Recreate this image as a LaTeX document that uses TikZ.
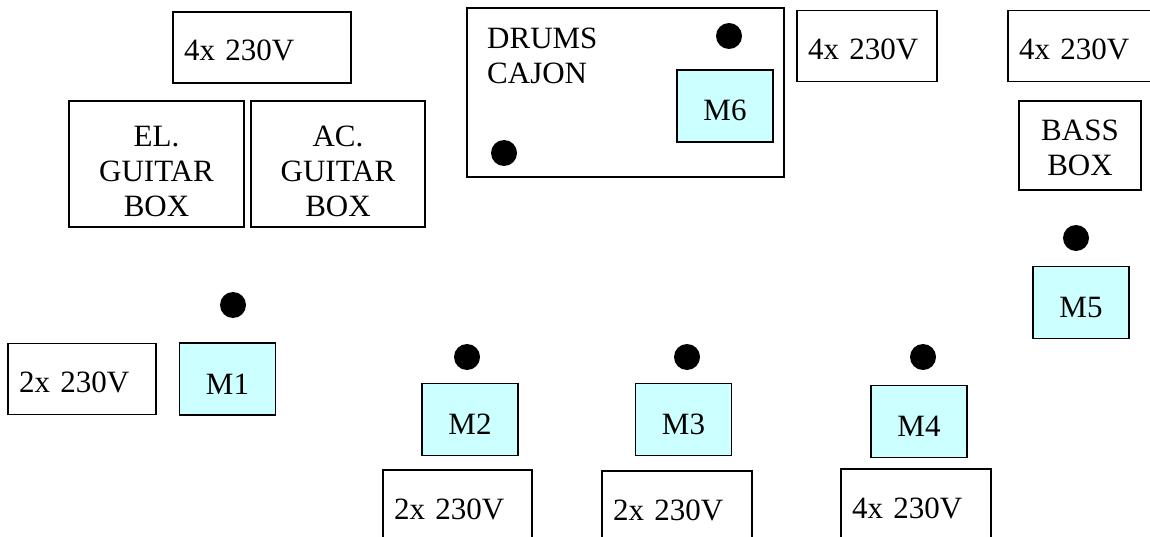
\documentclass[tikz,border=0pt]{standalone}
\usepackage{fontspec}
\setmainfont{Liberation Serif}
\usepackage{xcolor}
\definecolor{miccol}{HTML}{CCFFFF}

\begin{document}
\begin{tikzpicture}[x=1pt,y=-1pt,font=\fontsize{31}{35}\selectfont,
  box/.style={draw,line width=1.5pt,inner sep=0pt},
  pwr/.style={box,inner xsep=11pt,text width=#1,align=left,minimum height=71pt,text height=27pt,text depth=0pt},
  mic/.style={box,fill=miccol,minimum width=96pt,minimum height=72pt,text height=30pt,text depth=0pt},
  spot/.style={circle,fill=black,inner sep=0pt,minimum size=26pt},
  lbl/.style={align=center,inner sep=0pt}]
\useasboundingbox (0,0) rectangle (1150,537);
\clip (0,0) rectangle (1150,537);
% back line: amps, drums, bass
\node[pwr=156pt] (pwrA) at (262,47.5) {4x 230V};
\node[box,minimum width=175pt,minimum height=126pt,
  label={[lbl,yshift=-7.5pt]center:EL.\\GUITAR\\BOX}] (elg) at (156.5,164) {};
\node[box,minimum width=174pt,minimum height=126pt,
  label={[lbl,yshift=-7.5pt]center:AC.\\GUITAR\\BOX}] (acg) at (338,164) {};
\node[box,minimum width=317pt,minimum height=169pt] (drums) at (625.5,92.5) {};
\node[lbl,align=left,anchor=north west] (drumtxt) at (487,28) {DRUMS\\CAJON};
\node[spot] (d6a) at (729,36) {};
\node[spot] (d6b) at (504,153) {};
\node[mic] (m6) at (725,106) {M6};
\node[pwr=118pt] (pwrB) at (867,46) {4x 230V};
\node[pwr=156pt] (pwrC) at (1097,46) {4x 230V};
\node[box,minimum width=122pt,minimum height=89pt,
  label={[lbl,yshift=-2pt]center:BASS\\BOX}] (bass) at (1080,145.5) {};
\node[spot] (d5) at (1076,238) {};
\node[mic] (m5) at (1081,302.5) {M5};
% front line: vocal mics
\node[pwr=126pt] (pwr1) at (82,379) {2x 230V};
\node[spot] (d1) at (233,305) {};
\node[mic] (m1) at (227.5,379) {M1};
\node[spot] (d2) at (467,357) {};
\node[mic] (m2) at (470,419.5) {M2};
\node[spot] (d3) at (687,357) {};
\node[mic] (m3) at (683.5,419.5) {M3};
\node[spot] (d4) at (923,357) {};
\node[mic] (m4) at (919,421.5) {M4};
\node[pwr=127pt] (pwr2) at (457.5,505.5) {2x 230V};
\node[pwr=128pt] (pwr3) at (677,506.5) {2x 230V};
\node[pwr=128pt] (pwr4) at (916,504.5) {4x 230V};
\end{tikzpicture}
\end{document}
